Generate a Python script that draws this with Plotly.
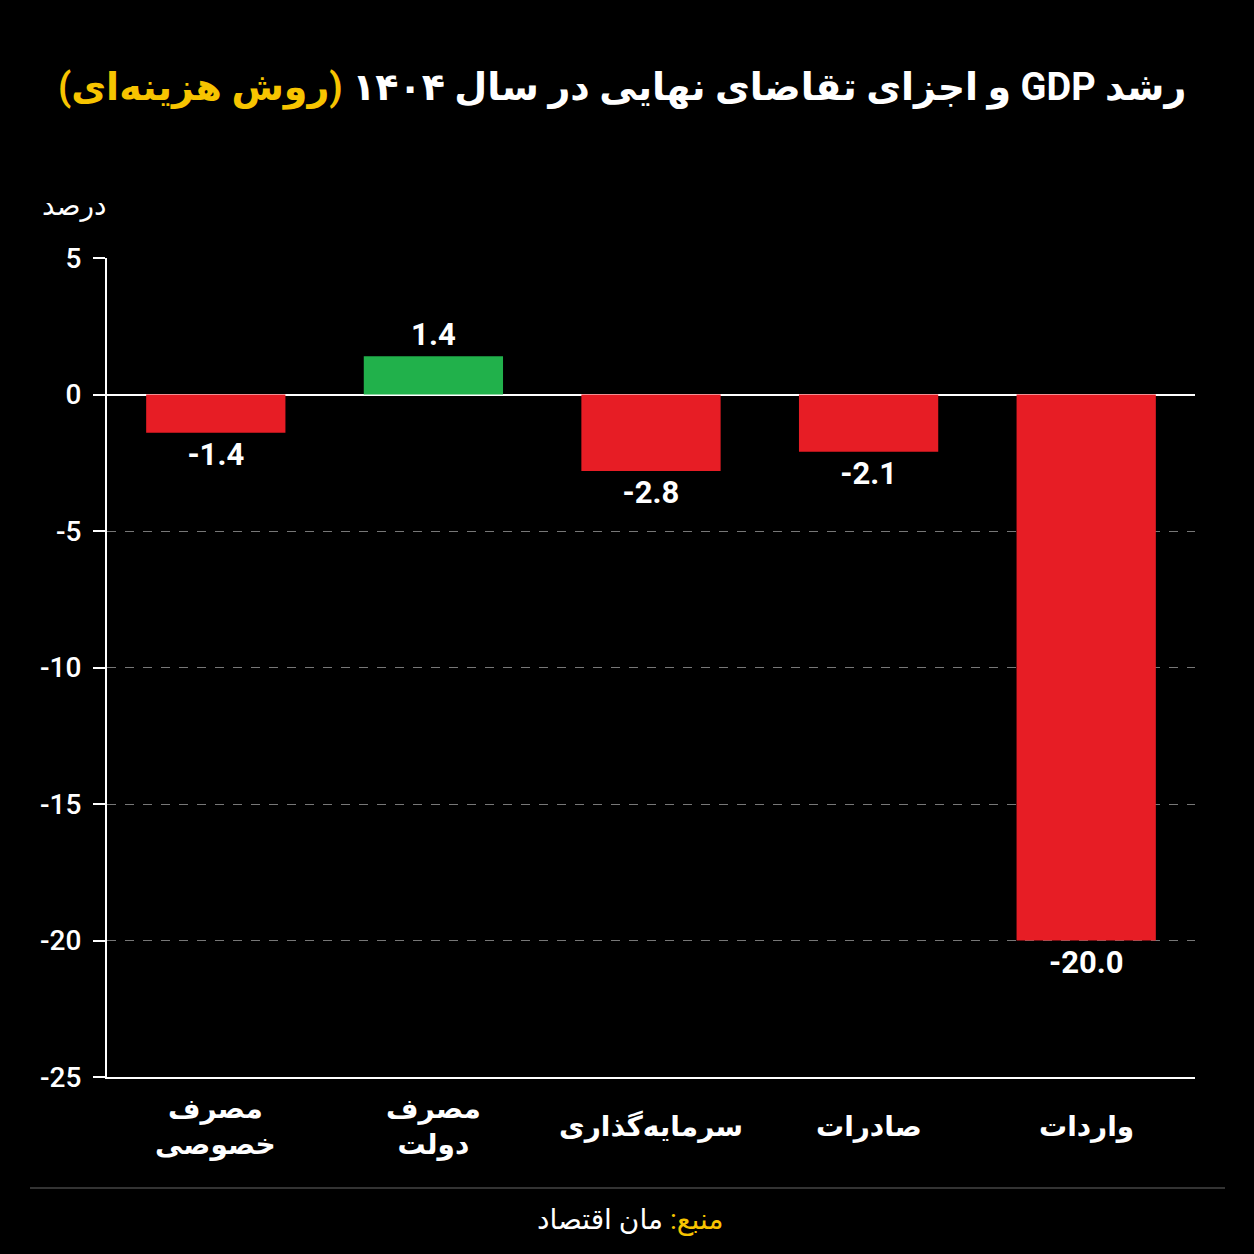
import plotly.graph_objects as go

categories = ["مصرف<br>خصوصی", "مصرف<br>دولت", "سرمایه‌گذاری", "صادرات", "واردات"]
values = [-1.4, 1.4, -2.8, -2.1, -20.0]
tick_vals = [5, 0, -5, -10, -15, -20, -25]
tick_text = ["5", "0", "-5", "-10", "-15", "-20", "-25"]

RED = "#e71d25"
GREEN = "#21b14b"
YELLOW = "#f7c400"
colors = [GREEN if v > 0 else RED for v in values]

FONT = "Roboto, DejaVu Sans, sans-serif"

fig = go.Figure()
fig.add_trace(go.Bar(
    x=categories, y=values,
    marker=dict(color=colors, line=dict(width=0)),
    width=0.64,
    text=values, texttemplate="%{y:.1f}", textposition="outside",
    textfont=dict(family=FONT, size=31, color="white", weight="bold"),
    cliponaxis=False,
    hoverinfo="skip",
))

fig.update_layout(
    width=1254, height=1254,
    paper_bgcolor="black", plot_bgcolor="black",
    margin=dict(l=107, r=59, t=258, b=177),
    showlegend=False,
    font=dict(family=FONT, color="white"),
    yaxis=dict(
        range=[-25, 5], tickvals=tick_vals, ticktext=tick_text,
        showgrid=True, gridcolor="#777777", griddash="dash", gridwidth=1,
        showline=True, linecolor="white", linewidth=2,
        ticks="outside", ticklen=12, tickcolor="white", tickwidth=2,
        ticklabelstandoff=6,
        tickfont=dict(family=FONT, size=28, color="white", weight=500),
        zeroline=True, zerolinecolor="white", zerolinewidth=2,
    ),
    xaxis=dict(
        showline=True, linecolor="white", linewidth=2,
        showgrid=False, ticks="", showticklabels=False,
    ),
    shapes=[dict(type="line", xref="paper", yref="paper",
                 x0=-0.0708, x1=1.0276, y0=-0.1355, y1=-0.1355,
                 line=dict(color="#444444", width=1.5))],
)

for c in categories:
    fig.add_annotation(text=c, x=c, xref="x", yref="paper", y=-0.061,
                       xanchor="center", yanchor="middle", showarrow=False,
                       font=dict(family=FONT, size=28, color="white", weight="bold"))

title = ("\u202b" + "رشد GDP و اجزای تقاضای نهایی در سال ۱۴۰۴ "
         + f"<span style='color:{YELLOW}'>(روش هزینه‌ای)</span>" + "\u202c")
fig.add_annotation(text=title, xref="paper", yref="paper", x=0.9936, y=1.2076,
                   xanchor="right", yanchor="middle", showarrow=False,
                   font=dict(family=FONT, size=38, color="white", weight="bold"))
fig.add_annotation(text="درصد", xref="paper", yref="paper", x=-0.03, y=1.0647,
                   xanchor="center", yanchor="middle", showarrow=False,
                   font=dict(family=FONT, size=28, color="white"))
fig.add_annotation(text=f"\u202b<span style='color:{YELLOW}'>منبع:</span> مان اقتصاد\u202c",
                   xref="paper", yref="paper", x=0.481, y=-0.1746,
                   xanchor="center", yanchor="middle", showarrow=False,
                   font=dict(family=FONT, size=28, color="white"))

fig.write_html("out.html")
